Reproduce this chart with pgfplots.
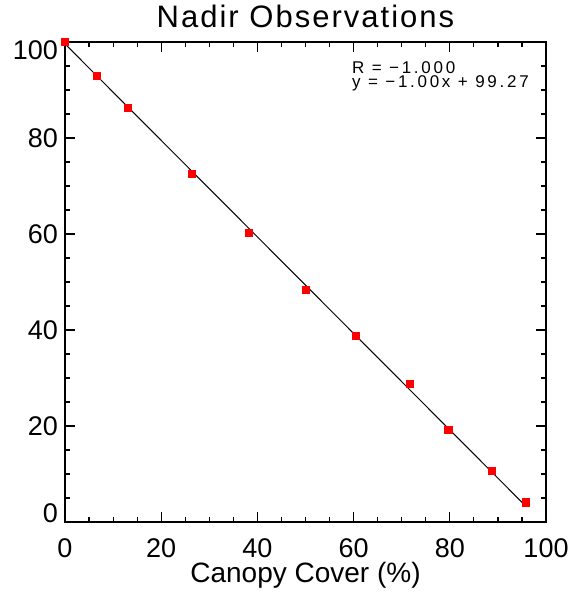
\documentclass[border=0pt]{standalone}
\usepackage{fontspec}
\setmainfont{Liberation Sans}
\usepackage{pgfplots}
\pgfplotsset{compat=1.18}
\begin{document}
\begin{tikzpicture}
\useasboundingbox (-32.5pt,-37.5pt) rectangle (252.5pt,261pt);
\begin{axis}[
scale only axis,
width=240.5pt, height=240pt,
xmin=0, xmax=100, ymin=0, ymax=100,
xtick={0,20,...,100}, ytick={0,20,...,100},
yticklabels={\raisebox{4.2pt}[\height][\depth]{0},20,40,60,80,\raisebox{-4pt}[\height][\depth]{100}},
minor tick num=3,
tick align=inside,
major tick length=5pt, minor tick length=2.5pt,
axis line style={line width=0.6pt},
every tick/.style={black, line width=0.6pt},
/pgf/number format/assume math mode=true,
tick label style={font=\fontsize{13.5}{15}\selectfont},
xticklabel style={anchor=base, inner sep=0pt, yshift=-18pt},
every axis title shift=0pt,
title={Nadir Observations},
title style={font=\fontsize{15.5}{17}\selectfont\addfontfeature{LetterSpace=6.5}, at={(0.5,1)}, anchor=base, yshift=7pt},
xlabel={Canopy Cover (\%)},
xlabel style={font=\fontsize{14}{16}\selectfont, inner sep=0pt, at={(0.5,0)}, anchor=base, yshift=-30.5pt},
clip=false,
]
% fitted line y = -1.00x + 99.27
\addplot[black, line width=0.5pt] coordinates {(0,99.6) (95.8,3.3)};
\addplot[only marks, mark=square*, mark size=1.8pt, color=red, mark options={fill=red, draw=red}] coordinates {
(0,100.0)
(6.6,92.9)
(13.0,86.2)
(26.3,72.5)
(38.3,60.2)
(50.1,48.3)
(60.5,38.7)
(71.7,28.7)
(79.7,19.2)
(88.7,10.6)
(95.8,4.1)
};
\node[anchor=base west, inner sep=0pt, font=\fontsize{8.5}{10}\selectfont\addfontfeature{LetterSpace=16}] at (axis cs:59.6,93.5) {R = −1.000};
\node[anchor=base west, inner sep=0pt, font=\fontsize{8.5}{10}\selectfont\addfontfeature{LetterSpace=16}] at (axis cs:59.6,90.6) {y = −1.00x + 99.27};
\end{axis}
\end{tikzpicture}
\end{document}
